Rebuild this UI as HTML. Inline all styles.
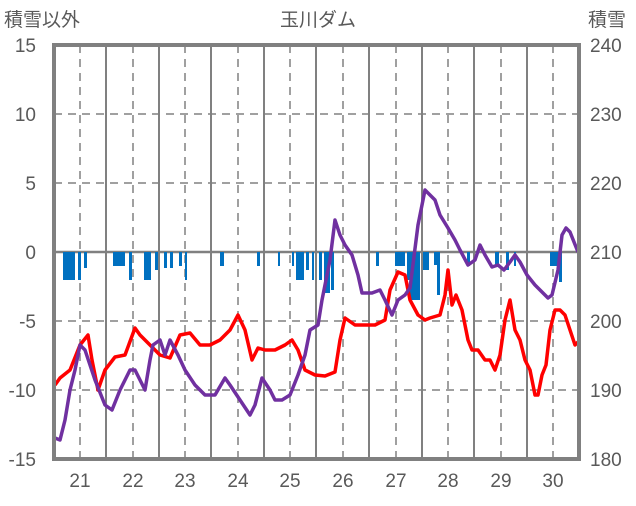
<!DOCTYPE html>
<html><head><meta charset="utf-8"><style>
body{margin:0;background:#fff;}
svg text{font-family:"Liberation Sans","Noto Sans CJK JP",sans-serif;fill:#595959;font-size:19px;}
</style></head><body>
<svg width="636" height="501" viewBox="0 0 636 501" xmlns="http://www.w3.org/2000/svg">
<rect width="636" height="501" fill="#fff"/>
<g stroke="#808080" stroke-width="1.5" stroke-dasharray="8,6">
<line x1="54" y1="114" x2="579" y2="114"/><line x1="54" y1="183" x2="579" y2="183"/>
<line x1="54" y1="321" x2="579" y2="321"/><line x1="54" y1="390" x2="579" y2="390"/>
<line x1="80" y1="45" x2="80" y2="459"/><line x1="133" y1="45" x2="133" y2="459"/>
<line x1="185" y1="45" x2="185" y2="459"/><line x1="238" y1="45" x2="238" y2="459"/>
<line x1="290" y1="45" x2="290" y2="459"/><line x1="343" y1="45" x2="343" y2="459"/>
<line x1="396" y1="45" x2="396" y2="459"/><line x1="448" y1="45" x2="448" y2="459"/>
<line x1="501" y1="45" x2="501" y2="459"/><line x1="553" y1="45" x2="553" y2="459"/>
</g>
<g stroke="#808080" stroke-width="2">
<line x1="106" y1="45" x2="106" y2="459"/><line x1="159" y1="45" x2="159" y2="459"/>
<line x1="211" y1="45" x2="211" y2="459"/><line x1="264" y1="45" x2="264" y2="459"/>
<line x1="316" y1="45" x2="316" y2="459"/><line x1="369" y1="45" x2="369" y2="459"/>
<line x1="422" y1="45" x2="422" y2="459"/><line x1="474" y1="45" x2="474" y2="459"/>
<line x1="527" y1="45" x2="527" y2="459"/>
<line x1="54" y1="252" x2="579" y2="252" stroke-width="2.5"/>
</g>
<g fill="#0070c0">
<rect x="63" y="252" width="12" height="28"/><rect x="78" y="252" width="3" height="28"/><rect x="84" y="252" width="3" height="16"/>
<rect x="113" y="252" width="12" height="14"/><rect x="129" y="252" width="3" height="28"/>
<rect x="144" y="252" width="7" height="28"/><rect x="155" y="252" width="3" height="18"/>
<rect x="164" y="252" width="3" height="16"/><rect x="170" y="252" width="3" height="16"/>
<rect x="179" y="252" width="3" height="14"/><rect x="185" y="252" width="2" height="28"/>
<rect x="220" y="252" width="4" height="14"/><rect x="257" y="252" width="3" height="14"/>
<rect x="278" y="252" width="2" height="14"/><rect x="292" y="252" width="2" height="14"/>
<rect x="296" y="252" width="8" height="28"/><rect x="306" y="252" width="3" height="18"/>
<rect x="312" y="252" width="2" height="28"/><rect x="319" y="252" width="3" height="28"/>
<rect x="324" y="252" width="6" height="41"/><rect x="331" y="252" width="3" height="38"/>
<rect x="376" y="252" width="3" height="14"/><rect x="395" y="252" width="10" height="14"/>
<rect x="407" y="252" width="3" height="28"/><rect x="410" y="252" width="10" height="48"/>
<rect x="423" y="252" width="6" height="18"/><rect x="434" y="252" width="3" height="13"/>
<rect x="437" y="252" width="3" height="43"/><rect x="467" y="252" width="3" height="14"/>
<rect x="495" y="252" width="4" height="14"/><rect x="506" y="252" width="3" height="18"/>
<rect x="514" y="252" width="2" height="14"/><rect x="550" y="252" width="10" height="14"/>
<rect x="559" y="252" width="3" height="30"/>
</g>
<polyline fill="none" stroke="#ff0000" stroke-width="3.5" stroke-linejoin="round" points="55,385 60,378 70,370 80,345 88,335 92,360 98,390 105,370 115,357 125,355 135,328 140,335 150,345 160,355 170,358 180,335 190,333 200,345 210,345 220,340 230,330 238,315 245,330 252,360 258,348 265,350 275,350 285,345 292,340 298,350 305,370 315,375 325,376 335,372 340,340 345,318 355,325 365,325 375,325 385,320 390,290 398,272 405,275 410,300 418,315 425,320 430,318 440,315 445,295 448,270 452,305 456,295 462,310 468,340 472,350 478,350 485,360 490,360 495,370 500,355 505,320 510,300 515,330 520,340 525,360 530,370 535,395 538,395 542,375 546,365 550,330 555,310 560,310 565,315 570,330 575,345 578,342"/>
<polyline fill="none" stroke="#7030a0" stroke-width="3.5" stroke-linejoin="round" points="55,438 60,440 65,420 70,390 75,370 80,345 85,350 95,380 105,405 112,410 120,390 125,380 130,370 135,370 140,380 145,390 150,360 153,345 160,340 165,355 170,340 178,355 185,370 195,385 205,395 215,395 225,378 230,385 240,400 250,415 255,405 262,378 270,390 275,400 282,400 290,395 298,375 305,355 310,330 318,325 322,300 330,260 335,220 340,235 345,245 352,255 358,275 362,293 372,293 380,290 385,300 392,315 398,300 405,295 410,288 418,225 425,190 430,195 435,200 440,215 448,228 455,240 460,250 468,265 475,260 480,245 485,255 492,267 498,265 504,270 510,262 515,255 520,262 527,275 535,285 540,290 548,298 552,295 558,270 562,235 566,228 570,232 578,252"/>
<rect x="54" y="45" width="525" height="414" fill="none" stroke="#808080" stroke-width="4"/>
<g text-anchor="end">
<text x="36" y="52">15</text><text x="36" y="121">10</text><text x="36" y="190">5</text>
<text x="36" y="259">0</text><text x="36" y="328">-5</text><text x="36" y="397">-10</text><text x="36" y="466">-15</text>
</g>
<g text-anchor="start">
<text x="590" y="52">240</text><text x="590" y="121">230</text><text x="590" y="190">220</text>
<text x="590" y="259">210</text><text x="590" y="328">200</text><text x="590" y="397">190</text><text x="590" y="466">180</text>
</g>
<g text-anchor="middle">
<text x="80" y="487">21</text><text x="133" y="487">22</text><text x="185" y="487">23</text><text x="238" y="487">24</text>
<text x="290" y="487">25</text><text x="343" y="487">26</text><text x="396" y="487">27</text><text x="448" y="487">28</text>
<text x="501" y="487">29</text><text x="553" y="487">30</text>
</g>
<text x="4" y="26" font-size="18">積雪以外</text>
<text x="318" y="26" font-size="18" text-anchor="middle">玉川ダム</text>
<text x="588" y="26" font-size="18">積雪</text>
</svg>
</body></html>
